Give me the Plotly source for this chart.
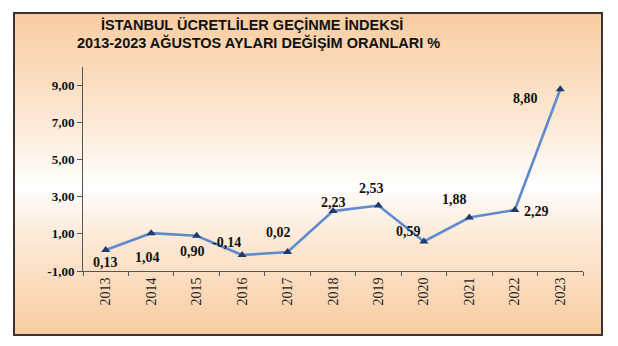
import plotly.graph_objects as go

# Yearly August change rates (%)
years = ["2013", "2014", "2015", "2016", "2017", "2018",
         "2019", "2020", "2021", "2022", "2023"]
rates = [0.13, 1.04, 0.90, -0.14, 0.02, 2.23, 2.53, 0.59, 1.88, 2.29, 8.80]

y_ticks = [-1, 1, 3, 5, 7, 9]

title_lines = ["İSTANBUL ÜCRETLİLER GEÇİNME İNDEKSİ",
               "2013-2023 AĞUSTOS AYLARI DEĞİŞİM ORANLARI %"]

# Pixel offsets of each value label relative to its marker
label_dx = [0, -4, -4, -16, -9, 0, -7, -15, -15, 22, -35]
label_dy = [-12, -24, -16, 13, 20, 9, 17, 10, 18, -2, -9]


def fmt(v):
    return f"{v:.2f}".replace(".", ",")


fig = go.Figure()

fig.add_trace(go.Scatter(
    x=years, y=rates, mode="lines+markers",
    line=dict(color="#5F8ACB", width=2.6),
    marker=dict(symbol="triangle-up", size=8, color="#1F3A6E"),
    hoverinfo="skip", showlegend=False,
))

for i, (v, dx, dy) in enumerate(zip(rates, label_dx, label_dy)):
    fig.add_annotation(
        x=i, y=v, text=f"<b>{fmt(v)}</b>", showarrow=False,
        xshift=dx, yshift=dy,
        font=dict(family="Liberation Serif", size=14, color="#111"),
    )

# Framed panel with a vertical peach-white-peach gradient
px_l, px_r, py_t, py_b = 83, 583, 67, 271
def to_x(px):
    return (px - px_l) / (px_r - px_l)
def to_y(py):
    return (py_b - py) / (py_b - py_t)

# Two-line heading
for text, cx, cy in zip(title_lines, [252, 258], [25, 43]):
    fig.add_annotation(
        xref="paper", yref="paper", x=to_x(cx), y=to_y(cy),
        xanchor="center", yanchor="middle", showarrow=False,
        text=f"<b>{text}</b>",
        font=dict(family="Liberation Sans", size=14.5, color="#111"),
    )

box_l, box_r, box_t, box_b = 14, 602, 13, 335
mid = 185
peach = (249, 204, 160)
shapes = []
n = 80
step = (box_b - box_t) / n
for i in range(n):
    top = box_t + i * step
    c = top + step / 2
    if c < mid:
        t = (mid - c) / (mid - box_t)
    else:
        t = (c - mid) / (box_b - mid)
    t = min(1.0, t) ** 0.85
    col = tuple(round(255 + (p - 255) * t) for p in peach)
    shapes.append(dict(
        type="rect", xref="paper", yref="paper", layer="below",
        x0=to_x(box_l), x1=to_x(box_r),
        y0=to_y(top + step + 0.5), y1=to_y(top),
        line=dict(width=0), fillcolor=f"rgb{col}",
    ))
shapes.append(dict(
    type="rect", xref="paper", yref="paper", layer="below",
    x0=to_x(box_l), x1=to_x(box_r), y0=to_y(box_b), y1=to_y(box_t),
    line=dict(color="#3B3431", width=2), fillcolor="rgba(0,0,0,0)",
))

fig.update_layout(
    width=618, height=346,
    margin=dict(l=px_l, r=618 - px_r, t=py_t, b=346 - py_b),
    paper_bgcolor="white", plot_bgcolor="rgba(0,0,0,0)",
    shapes=shapes,
    xaxis=dict(
        type="category", range=[-0.5, 10.5],
        showline=True, linecolor="#555", linewidth=1,
        ticks="outside", ticklen=4, tickcolor="#555",
        tickson="boundaries", showgrid=False, zeroline=False,
        tickangle=-90,
        tickfont=dict(family="Liberation Serif", size=14, color="#222"),
    ),
    yaxis=dict(
        range=[-1, 10], tickvals=y_ticks,
        ticktext=[f"<b>{fmt(t)}</b>" for t in y_ticks],
        showline=True, linecolor="#555", linewidth=1,
        ticks="outside", ticklen=5, tickcolor="#555",
        showgrid=False, zeroline=False,
        tickfont=dict(family="Liberation Serif", size=13, color="#111"),
    ),
)

fig.write_html("out.html")
